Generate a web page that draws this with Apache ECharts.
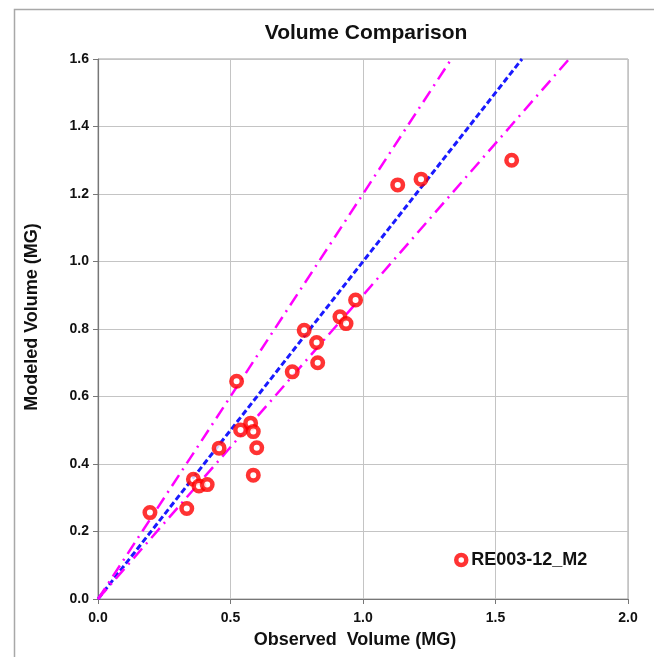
<!DOCTYPE html>
<html>
<head>
<meta charset="utf-8">
<script src="https://cdn.jsdelivr.net/npm/echarts@6/dist/echarts.min.js"></script>
<style>
html,body{margin:0;padding:0;background:#fff;}
#chart{width:654px;height:657px;}
</style>
</head>
<body>
<div id="chart"></div>
<script>
// Observed vs modeled volumes (MG)
var seriesName = 'RE003-12_M2';
var observed = [0.196, 0.335, 0.360, 0.381, 0.412, 0.457, 0.523, 0.538, 0.576, 0.586, 0.599, 0.586,
                0.733, 0.778, 0.825, 0.829, 0.913, 0.936, 0.972, 1.131, 1.219, 1.561];
var modeled  = [0.256, 0.268, 0.355, 0.335, 0.339, 0.447, 0.645, 0.501, 0.521, 0.496, 0.448, 0.367,
                0.673, 0.796, 0.760, 0.700, 0.836, 0.816, 0.886, 1.227, 1.244, 1.300];
// Reference lines: 1:1, +20%, -10%
var lineOneToOne = [[0, 0], [1.6, 1.6]];
var lineUpper    = [[0, 0], [1.3333, 1.6]];
var lineLower    = [[0, 0], [1.7778, 1.6]];
var xTicks = ['0.0', '0.5', '1.0', '1.5', '2.0'];
var yTicks = ['0.0', '0.2', '0.4', '0.6', '0.8', '1.0', '1.2', '1.4', '1.6'];

var font = 'Liberation Sans, Arial, sans-serif';
var points = observed.map(function (v, i) { return [v, modeled[i]]; });

var chart = echarts.init(document.getElementById('chart'), null, {renderer: 'canvas'});
chart.setOption({
  animation: false,
  backgroundColor: '#fff',
  graphic: [{
    type: 'rect', left: 12, top: 7, z: -10,
    shape: {width: 700, height: 700},
    style: {fill: 'none', stroke: '#a8a8a8', lineWidth: 1.5}
  }],
  title: {
    text: 'Volume Comparison', left: 361, top: 18, textAlign: 'center',
    textStyle: {fontFamily: font, fontSize: 21, fontWeight: 'bold', color: '#111'}
  },
  grid: {left: 98, right: 26, top: 59, bottom: 58, show: true, borderColor: '#a0a0a0', borderWidth: 1},
  legend: {
    data: [seriesName], left: 449, top: 546, itemWidth: 10, itemHeight: 10,
    icon: 'circle',
    itemStyle: {color: '#fff', borderColor: '#ff0000', borderWidth: 4.5},
    textStyle: {fontFamily: font, fontSize: 18, fontWeight: 'bold', color: '#111'}
  },
  xAxis: {
    type: 'value', min: 0, max: 2, interval: 0.5,
    name: 'Observed  Volume (MG)', nameLocation: 'middle', nameGap: 32,
    nameTextStyle: {fontFamily: font, fontSize: 18, fontWeight: 'bold', color: '#111', padding: [0, 16, 0, 0]},
    axisLine: {show: true, onZero: false, lineStyle: {color: '#777', width: 1.2}},
    axisTick: {show: true, length: 5, lineStyle: {color: '#777'}},
    splitLine: {show: true, lineStyle: {color: '#c4c4c4', width: 1}},
    axisLabel: {
      fontFamily: font, fontSize: 14, fontWeight: 'bold', color: '#111', margin: 12,
      formatter: function (v) { return xTicks[Math.round(v / 0.5)]; }
    }
  },
  yAxis: {
    type: 'value', min: 0, max: 1.6, interval: 0.2,
    name: 'Modeled Volume (MG)', nameLocation: 'middle', nameGap: 57, nameRotate: 90,
    nameTextStyle: {fontFamily: font, fontSize: 18, fontWeight: 'bold', color: '#111', padding: [0, 0, 0, 24]},
    axisLine: {show: true, onZero: false, lineStyle: {color: '#777', width: 1.2}},
    axisTick: {show: true, length: 5, lineStyle: {color: '#777'}},
    splitLine: {show: true, lineStyle: {color: '#c4c4c4', width: 1}},
    axisLabel: {
      fontFamily: font, fontSize: 14, fontWeight: 'bold', color: '#111', margin: 9,
      formatter: function (v) { return yTicks[Math.round(v / 0.2)]; }
    }
  },
  series: [
    {
      type: 'line', name: '1:1', data: lineOneToOne, symbol: 'none', silent: true, z: 3,
      lineStyle: {color: '#1a1aff', width: 3, type: [6, 3]}
    },
    {
      type: 'line', name: 'upper', data: lineUpper, symbol: 'none', silent: true, z: 3,
      lineStyle: {color: '#ff00ff', width: 2.5, type: [13, 6, 2, 6]}
    },
    {
      type: 'line', name: 'lower', data: lineLower, symbol: 'none', silent: true, z: 3,
      lineStyle: {color: '#ff00ff', width: 2.5, type: [13, 6, 2, 6]}
    },
    {
      type: 'scatter', name: seriesName, data: points, symbol: 'circle', symbolSize: 10.5, z: 5,
      itemStyle: {color: '#fff', borderColor: '#ff0000', borderWidth: 4.5}
    }
  ]
});
</script>
</body>
</html>
